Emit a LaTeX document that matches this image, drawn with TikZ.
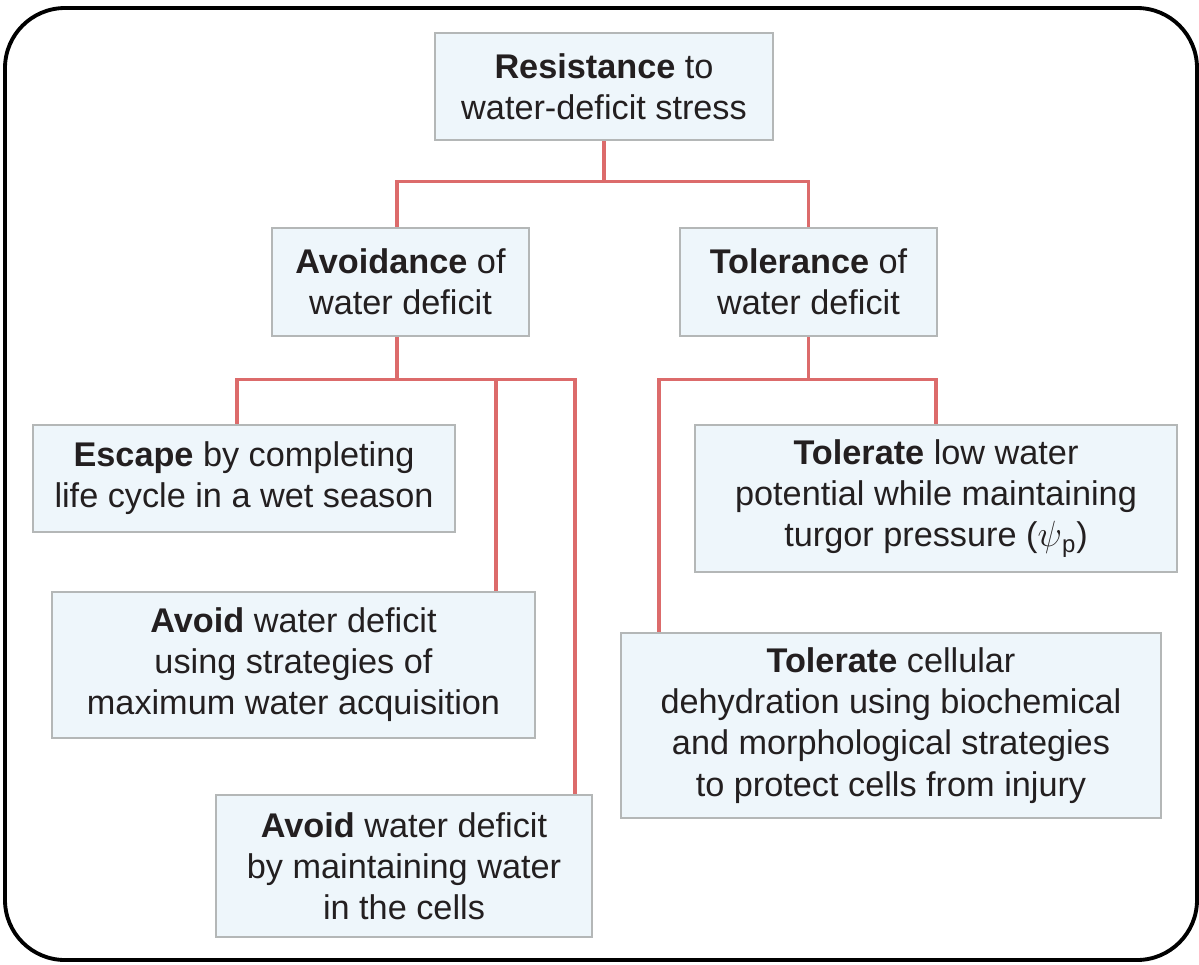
\documentclass[tikz,border=0pt]{standalone}
\usepackage{fontspec}
\setmainfont{Liberation Sans}
\usetikzlibrary{positioning}
\definecolor{boxfill}{HTML}{EEF6FB}
\definecolor{boxline}{HTML}{B4B7B7}
\definecolor{linkred}{HTML}{DC6B6B}
\definecolor{textdark}{HTML}{231F20}

\begin{document}
\begin{tikzpicture}[
    x=0.02cm, y=-0.02cm,
    every node/.style={font=\fontsize{19.5}{23.4}\selectfont, text=textdark},
    box/.style={draw=boxline, line width=1.6pt, fill=boxfill, align=center, inner sep=0pt},
    link/.style={draw=linkred, line width=1.8pt},
    frame/.style={draw=black, line width=2.2pt, rounded corners=1.2cm}
]
\useasboundingbox (0,0) rectangle (1199,964);
\draw[frame] (5,8) rectangle (1197,960);
\node[box, minimum width=6.76cm, minimum height=2.14cm] (res) at (604,86.5) {\textbf{Resistance} to\\water-deficit stress};
\node[box, minimum width=5.14cm, minimum height=2.16cm] (avo) at (400.5,282) {\textbf{Avoidance} of\\water deficit};
\node[box, minimum width=5.14cm, minimum height=2.16cm] (tol) at (808.5,282) {\textbf{Tolerance} of\\water deficit};
\node[box, minimum width=8.44cm, minimum height=2.14cm] (escape) at (244,478.5) {\textbf{Escape} by completing\\life cycle in a wet season};
\node[box, minimum width=9.66cm, minimum height=2.92cm] (acquire) at (293.5,665) {\textbf{Avoid} water deficit\\using strategies of\\maximum water acquisition};
\node[box, minimum width=7.52cm, minimum height=2.84cm] (maintain) at (404,866) {\textbf{Avoid} water deficit\\by maintaining water\\in the cells};
\node[box, minimum width=9.64cm, minimum height=2.94cm] (turgor) at (936,498.5) {\textbf{Tolerate} low water\\potential while maintaining\\turgor pressure ($\psi$\textsubscript{p})};
\node[box, minimum width=10.8cm, minimum height=3.7cm] (dehyd) at (891,725.5) {\textbf{Tolerate} cellular\\dehydration using biochemical\\and morphological strategies\\to protect cells from injury};
\draw[link] (res.south) -- ++(0,40) -| ([xshift=-0.07cm]avo.north);
\draw[link] (res.south) -- ++(0,40) -| (tol.north);
\draw[link] ([xshift=-0.07cm]avo.south) -- ++(0,42) -| ([xshift=-0.14cm]escape.north);
\draw[link] ([xshift=-0.07cm]avo.south) -- ++(0,42) -| ([xshift=4.05cm]acquire.north);
\draw[link] ([xshift=-0.07cm]avo.south) -- ++(0,42) -| ([xshift=3.42cm]maintain.north);
\draw[link] (tol.south) -- ++(0,42) -| (turgor.north);
\draw[link] (tol.south) -- ++(0,42) -| ([xshift=-4.64cm]dehyd.north);
\end{tikzpicture}
\end{document}
